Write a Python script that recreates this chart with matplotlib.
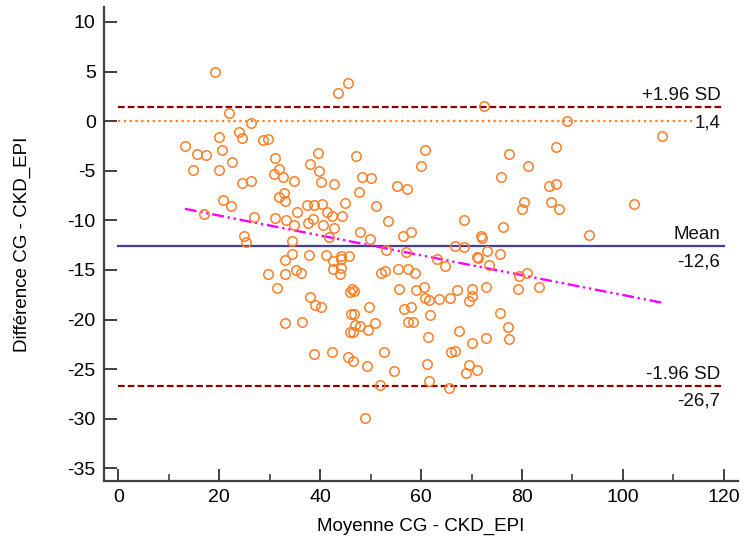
import numpy as np
import matplotlib
matplotlib.use("Agg")
import matplotlib.pyplot as plt

plt.rcParams['font.family'] = ['Liberation Sans', 'DejaVu Sans']
plt.rcParams['axes.unicode_minus'] = False

# Bland-Altman data: mean of the two methods (x) and difference (y)
mean_vals = [
    19.1, 22.0, 26.3, 23.9, 24.6, 19.9, 28.7, 29.6, 13.2, 20.6, 15.6, 17.3, 22.6, 14.9, 19.9,
    24.6, 26.2, 20.8, 22.3, 16.9, 26.8,
    45.6, 43.5, 31.1, 39.6, 37.9, 47.1, 31.8, 30.9, 32.6, 39.7, 34.8, 40.1, 42.7, 48.2, 50.0,
    47.7, 59.9, 60.8, 55.3, 57.2, 32.8, 31.8, 33.0, 44.9, 51.0, 35.4, 37.3, 38.8, 40.4,
    72.5, 88.9, 77.5, 86.8, 81.2, 75.9, 85.3, 86.8, 80.4, 80.0, 85.8, 87.3,
    24.9, 25.3, 31.1, 33.3, 34.9, 37.5, 34.4, 34.4, 33.0, 37.7, 29.6, 33.1, 35.3, 36.3, 31.5,
    37.9, 33.0, 36.4,
    41.3, 42.4, 44.4, 38.6, 40.5, 42.7, 53.5, 47.9, 49.9, 41.7, 56.4, 58.0, 41.1, 44.1, 44.1,
    45.8, 42.6, 42.6, 44.1, 43.9, 53.1, 57.1, 64.7, 63.2, 52.0, 52.8, 55.4, 57.4, 58.8, 46.3,
    46.8, 45.9, 55.6, 58.9, 60.6, 60.8, 61.6, 63.6, 38.9, 40.2, 49.7, 56.6, 58.1, 61.7, 46.1,
    46.8, 50.9, 57.4, 58.4, 46.9, 47.8, 45.9, 46.5, 49.5, 61.4,
    68.5, 76.3, 71.8, 72.0, 93.2, 66.8, 68.5, 73.1, 75.7, 71.0, 71.3, 73.5, 79.4, 80.9, 67.2,
    65.7, 70.1, 70.0, 69.4, 72.8, 79.2, 83.4, 75.6, 77.3, 67.6, 77.5, 72.9, 70.1,
    38.8, 42.4, 45.6, 46.6, 49.3, 52.6, 54.7, 51.9, 48.9,
    66.0, 66.8, 61.2, 69.4, 69.0, 71.1, 61.6, 65.6,
    107.7, 102.2,
]
diff_vals = [
    5.0, 0.8, -0.2, -1.1, -1.7, -1.6, -1.9, -1.8, -2.5, -2.9, -3.3, -3.4, -4.1, -4.9, -4.9,
    -6.2, -6.0, -8.0, -8.6, -9.4, -9.7,
    3.8, 2.8, -3.7, -3.2, -4.3, -3.5, -4.8, -5.3, -5.6, -5.0, -6.0, -6.1, -6.3, -5.6, -5.7,
    -7.1, -4.5, -2.9, -6.5, -6.8, -7.2, -7.6, -8.1, -8.3, -8.6, -9.2, -8.5, -8.5, -8.4,
    1.5, 0.0, -3.3, -2.6, -4.5, -5.6, -6.5, -6.3, -8.2, -8.9, -8.2, -8.9,
    -11.6, -12.2, -9.8, -10.0, -10.5, -10.3, -12.1, -13.4, -14.0, -13.5, -15.4, -15.4, -15.0, -15.3, -16.8,
    -17.7, -20.4, -20.3,
    -9.2, -9.6, -9.6, -9.9, -10.5, -10.8, -10.1, -11.2, -11.9, -11.7, -11.6, -11.2, -13.5, -13.6, -13.9,
    -13.6, -14.1, -14.9, -14.8, -15.4, -13.0, -13.2, -14.6, -13.9, -15.3, -15.1, -14.9, -14.9, -15.3, -16.9,
    -17.1, -17.2, -16.9, -17.0, -16.7, -17.8, -18.0, -17.9, -18.5, -18.7, -18.7, -18.9, -18.7, -19.5, -19.4,
    -19.4, -20.4, -20.3, -20.2, -20.6, -20.7, -21.3, -21.3, -21.1, -21.8,
    -10.0, -10.7, -11.6, -11.8, -11.5, -12.6, -12.7, -13.1, -13.4, -13.7, -13.8, -14.5, -15.6, -15.3, -17.0,
    -17.8, -16.9, -17.6, -18.1, -16.7, -16.9, -16.7, -19.3, -20.8, -21.2, -22.0, -21.9, -22.4,
    -23.5, -23.3, -23.8, -24.2, -24.7, -23.3, -25.2, -26.6, -29.9,
    -23.3, -23.2, -24.5, -24.6, -25.4, -25.1, -26.2, -26.9,
    -1.5, -8.4,
]

mean_diff = -12.6
upper_loa = 1.4
lower_loa = -26.7
line_span = [0, 120]
x_ticks = [0, 20, 40, 60, 80, 100, 120]
y_ticks = [-35, -30, -25, -20, -15, -10, -5, 0, 5, 10]

x = np.array(mean_vals)
y = np.array(diff_vals)

fig = plt.figure(figsize=(7.45, 5.53), dpi=100)
ax = fig.add_axes([0.1396, 0.1302, 0.851, 0.857])

ax.set_xlim(-2.83, 122.8)
ax.set_ylim(-36.28, 11.5)

# reference lines
ax.plot(line_span, [0, 0], color='#ff7f27', lw=1.6, linestyle=(0, (1, 1.6)), zorder=2)
ax.plot(line_span, [upper_loa, upper_loa], color='#8b0000', lw=1.6, linestyle=(0, (3, 1.4)), zorder=2)
ax.plot(line_span, [lower_loa, lower_loa], color='#8b0000', lw=1.6, linestyle=(0, (3, 1.4)), zorder=2)
ax.plot(line_span, [mean_diff, mean_diff], color='#40409a', lw=1.6, zorder=2)

# regression line
coef = np.polyfit(x, y, 1)
xr = np.array([x.min(), x.max()])
ax.plot(xr, np.polyval(coef, xr), color='#ff00ff', lw=1.7,
        linestyle=(0, (5, 1.6, 1, 1.6, 1, 1.6)), zorder=3)

# points
ax.plot(x, y, linestyle='none', marker='o', markersize=6.8, markerfacecolor='none',
        markeredgecolor='#ff7f27', markeredgewidth=1.1, zorder=4)

# labels on lines
lab_x = 119.3
fs = 13.5
def above(yv, txt):
    ax.annotate(txt, (lab_x, yv), xytext=(0, 5), textcoords='offset points',
                ha='right', va='baseline', fontsize=fs, color='#111111', zorder=6)
def below(yv, txt):
    ax.annotate(txt, (lab_x, yv), xytext=(0, -5), textcoords='offset points',
                ha='right', va='top', fontsize=fs, color='#111111', zorder=6,
                bbox=dict(facecolor='white', edgecolor='none', pad=0.5))

above(upper_loa, '+1.96 SD')
below(upper_loa, f'{upper_loa:.1f}'.replace('.', ','))
above(mean_diff, 'Mean')
below(mean_diff, f'{mean_diff:.1f}'.replace('.', ','))
above(lower_loa, '-1.96 SD')
below(lower_loa, f'{lower_loa:.1f}'.replace('.', ','))

# axes styling
for s in ['top', 'right']:
    ax.spines[s].set_visible(False)
for s in ['left', 'bottom']:
    ax.spines[s].set_color('#404040')
    ax.spines[s].set_linewidth(1.6)

ax.set_xticks(x_ticks)
ax.set_xticks([10, 30, 50, 70, 90, 110], minor=True)
ax.set_yticks(y_ticks)
ax.tick_params(axis='both', which='major', direction='in', length=9, width=1.4,
               color='#404040', labelsize=14, pad=6)
ax.tick_params(axis='x', which='minor', direction='in', length=5, width=1.2, color='#404040')

ax.set_xlabel('Moyenne CG - CKD_EPI', fontsize=13.5, labelpad=8)
ax.set_ylabel('Différence CG - CKD_EPI', fontsize=13.5)
ax.yaxis.set_label_coords(-0.115, 0.5)

fig.savefig('out.png', dpi=100)
